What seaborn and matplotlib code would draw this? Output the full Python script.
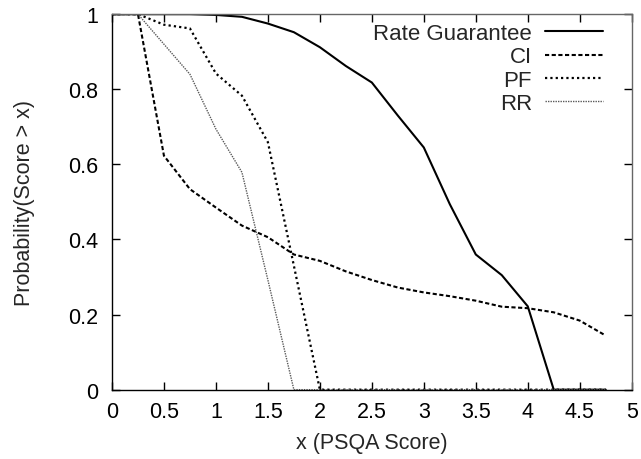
import numpy as np
import pandas as pd
import matplotlib
matplotlib.use('Agg')
import matplotlib.pyplot as plt
import seaborn as sns

# PSQA score grid and survival probabilities
x_score = [0, 0.25, 0.5, 0.75, 1.0, 1.25, 1.5, 1.75, 2.0, 2.25,
           2.5, 2.75, 3.0, 3.25, 3.5, 3.75, 4.0, 4.25, 4.5, 4.75]
rate_guarantee = [1, 1, 1, 1, 0.998, 0.993, 0.975, 0.952, 0.912, 0.862,
                  0.818, 0.73, 0.645, 0.494, 0.36, 0.305, 0.222, 0, 0, 0]
ci = [1, 1, 0.623, 0.534, 0.485, 0.437, 0.406, 0.36, 0.343, 0.315,
      0.292, 0.272, 0.259, 0.249, 0.237, 0.221, 0.217, 0.206, 0.184, 0.144]
pf = [1, 1, 0.972, 0.962, 0.842, 0.783, 0.659, 0.33, 0, 0,
      0, 0, 0, 0, 0, 0, 0, 0, 0, 0]
rr = [1, 1, 0.92, 0.84, 0.694, 0.579, 0.292, 0, 0, 0,
      0, 0, 0, 0, 0, 0, 0, 0, 0, 0]

series = {'Rate Guarantee': rate_guarantee, 'CI': ci, 'PF': pf, 'RR': rr}
styles = {
    'Rate Guarantee': dict(color='black', lw=1.5, linestyle='-'),
    'CI': dict(color='black', lw=1.5, linestyle=(0, (2.0, 1.2))),
    'PF': dict(color='black', lw=1.6, linestyle=(0, (1, 1.4))),
    'RR': dict(color='0.35', lw=1.0, linestyle=(0, (1, 0.8))),
}

sns.set_style('ticks')
plt.rcParams['font.family'] = ['Liberation Sans', 'DejaVu Sans']

fig = plt.figure(figsize=(6.41, 4.60), dpi=100)
ax = fig.add_axes([0.1747, 0.1507, 0.8108, 0.8163])

for name, vals in series.items():
    df = pd.DataFrame({'x': x_score, 'p': vals})
    sns.lineplot(data=df, x='x', y='p', ax=ax, label=name, **styles[name])

ax.set_xlim(0, 5)
ax.set_ylim(0, 1)
ax.set_xticks(np.arange(0, 5.01, 0.5))
ax.set_xticklabels(['0', '0.5', '1', '1.5', '2', '2.5', '3', '3.5', '4', '4.5', '5'])
ax.set_yticks(np.arange(0, 1.01, 0.2))
ax.set_yticklabels(['0', '0.2', '0.4', '0.6', '0.8', '1'])

ax.tick_params(axis='both', direction='in', length=6, width=1, colors='black',
               labelsize=15.5, top=True, right=True)
ax.tick_params(axis='x', pad=8)
ax.tick_params(axis='y', pad=10)
for side in ['left', 'bottom', 'top', 'right']:
    ax.spines[side].set_visible(True)
    ax.spines[side].set_linewidth(1.0)
    ax.spines[side].set_color('black')
ax.spines['top'].set_color('0.4')
ax.spines['right'].set_color('0.4')

ax.set_xlabel('x (PSQA Score)', fontsize=15.5, labelpad=7)
ax.set_ylabel('Probability(Score > x)', fontsize=15.5, labelpad=24)

leg = ax.legend(loc='upper right', bbox_to_anchor=(0.962, 1.0), frameon=False,
                markerfirst=False, fontsize=16, handlelength=2.6,
                handletextpad=0.6, labelspacing=0.1, borderaxespad=0.0,
                borderpad=0.4)

fig.savefig('out.png', dpi=100)
